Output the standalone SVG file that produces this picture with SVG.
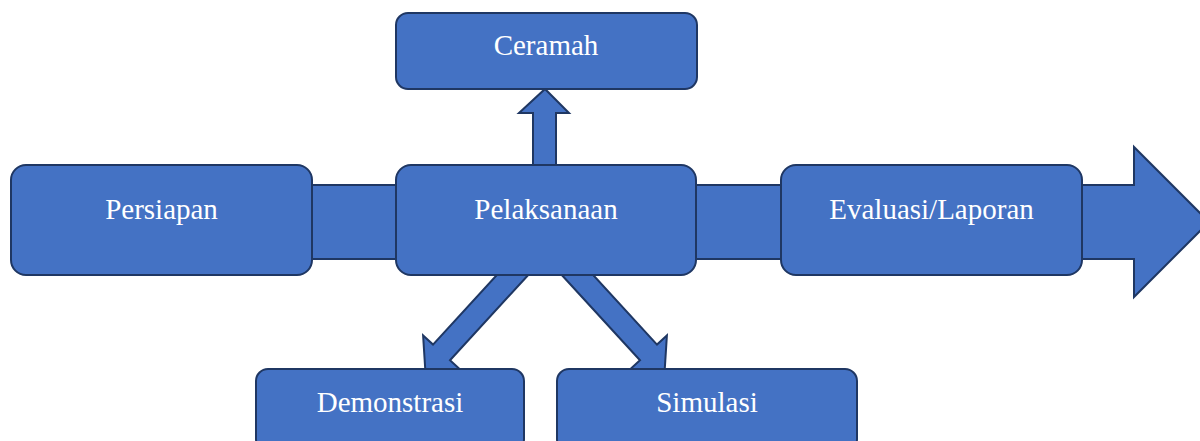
<svg xmlns="http://www.w3.org/2000/svg" width="1200" height="441" viewBox="0 0 1200 441">
<style>
.shape{fill:#4472c4;stroke:#1f3763;stroke-width:2;stroke-linejoin:miter}
.box{fill:#4472c4;stroke:#1f3763;stroke-width:2}
.lbl{font-family:"Liberation Serif","Times New Roman",serif;font-size:29px;fill:#ffffff;text-anchor:middle}
</style>
<rect width="1200" height="441" fill="#ffffff"/>
<g id="connectors">
<polygon class="shape" points="300,185 1134,185 1134,147 1209,222 1134,297 1134,259 300,259"/>
<polygon class="shape" points="533,170 533,113 519,113 545,89 569,113 556,113 556,170"/>
<polygon class="shape" points="532.8,270 450,360.2 459.9,369.3 425.3,370.1 423.1,335.5 433,344.6 501.4,270"/>
<polygon class="shape" points="557.2,270 640,360.2 630.1,369.3 664.7,370.1 666.9,335.5 657,344.6 588.6,270"/>
</g>
<g id="node-persiapan">
<rect class="box" x="11" y="165" width="301" height="110" rx="15"/>
<text class="lbl" x="161.5" y="219">Persiapan</text>
</g>
<g id="node-pelaksanaan">
<rect class="box" x="396" y="165" width="300" height="110" rx="15"/>
<text class="lbl" x="546" y="219">Pelaksanaan</text>
</g>
<g id="node-evaluasi">
<rect class="box" x="781" y="165" width="301" height="110" rx="15"/>
<text class="lbl" x="931.5" y="219">Evaluasi/Laporan</text>
</g>
<g id="node-ceramah">
<rect class="box" x="396" y="13" width="301" height="76" rx="12"/>
<text class="lbl" x="546" y="55">Ceramah</text>
</g>
<g id="node-demonstrasi">
<rect class="box" x="256" y="369" width="268" height="82" rx="12"/>
<text class="lbl" x="390" y="412">Demonstrasi</text>
</g>
<g id="node-simulasi">
<rect class="box" x="557" y="369" width="300" height="82" rx="12"/>
<text class="lbl" x="707" y="412">Simulasi</text>
</g>
</svg>
